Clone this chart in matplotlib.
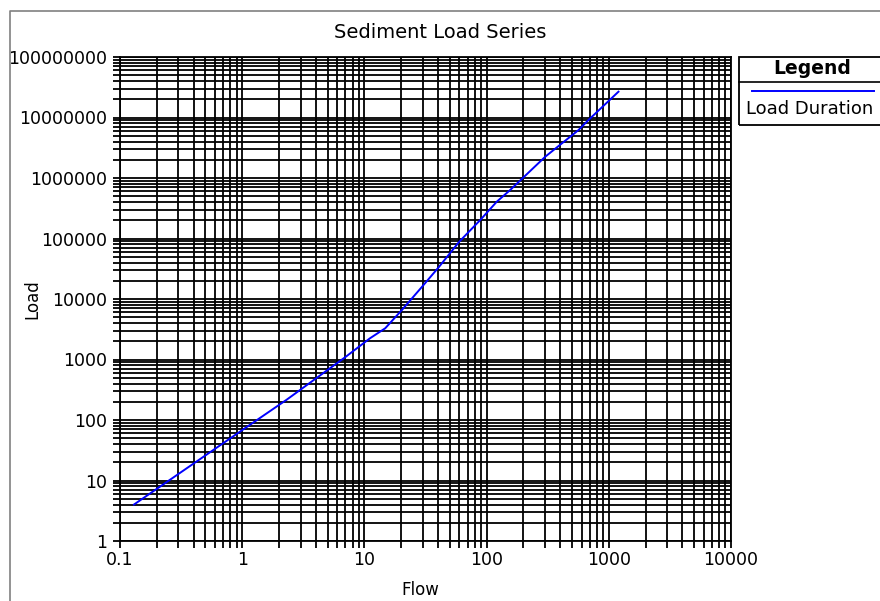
import matplotlib
matplotlib.use('Agg')
import matplotlib.pyplot as plt
from matplotlib.ticker import LogLocator, NullFormatter
from matplotlib.lines import Line2D
from matplotlib.patches import Rectangle

# values
flow = [0.13, 1, 2.3, 7, 11.1, 14.8, 20.3, 29.6, 40.9, 59.7, 88.7, 121, 156, 302, 565, 682, 1200]
load = [4.0, 68, 215, 1100, 2240, 3280, 6600, 15900, 34200, 88500, 202000, 405000,
        634000, 2250000, 6200000, 9100000, 26700000]

x_ticks = [0.1, 1, 10, 100, 1000, 10000]
x_labels = ['0.1', '1', '10', '100', '1000', '10000']
y_ticks = [1, 10, 100, 1000, 10000, 100000, 1000000, 10000000, 100000000]
y_labels = ['1', '10', '100', '1000', '10000', '100000', '1000000', '10000000', '100000000']

plt.rcParams['font.family'] = ['DejaVu Sans']

W, H = 880, 601
fig = plt.figure(figsize=(8.8, 6.01), dpi=100)


def fx(px):
    return px / W


def fy(py):
    return 1 - py / H


ax = fig.add_axes([fx(120), fy(541), (731 - 120) / W, (541 - 57) / H])
ax.set_xscale('log')
ax.set_yscale('log')
ax.plot(flow, load, color='#0000ff', lw=1.4, zorder=3)
ax.set_xlim(0.1, 10000)
ax.set_ylim(1, 1e8)

ax.set_xticks(x_ticks, x_labels)
ax.set_yticks(y_ticks, y_labels)
ax.xaxis.set_minor_locator(LogLocator(base=10, subs=range(2, 10), numticks=20))
ax.yaxis.set_minor_locator(LogLocator(base=10, subs=range(2, 10), numticks=20))
ax.xaxis.set_minor_formatter(NullFormatter())
ax.yaxis.set_minor_formatter(NullFormatter())

ax.set_axisbelow(True)
ax.grid(True, which='both', color='black', lw=1.3)
ax.tick_params(which='both', direction='out', length=5, width=1.3, color='black',
               labelsize=12.5)
ax.tick_params(axis='y', pad=4)
ax.tick_params(axis='x', pad=2)
for s in ax.spines.values():
    s.set_color('black')
    s.set_linewidth(1.3)

fig.text(fx(440), fy(33), 'Sediment Load Series', ha='center', va='center', fontsize=14)
fig.text(fx(420), fy(590), 'Flow', ha='center', va='center', fontsize=12)
fig.text(fx(32), fy(299), 'Load', ha='center', va='center', rotation=90, fontsize=12)

# legend box drawn by hand
fig.add_artist(Rectangle((fx(739), fy(125)), (890 - 739) / W, (125 - 57) / H,
                         transform=fig.transFigure, fill=False, ec='black', lw=1.3))
fig.add_artist(Line2D([fx(739), fx(890)], [fy(82), fy(82)], transform=fig.transFigure,
                      color='black', lw=1.2))
fig.text(fx(812), fy(69), 'Legend', ha='center', va='center', fontsize=13.5, weight='bold')
fig.add_artist(Line2D([fx(752), fx(874)], [fy(91), fy(91)], transform=fig.transFigure,
                      color='#0000ff', lw=1.4))
fig.text(fx(746), fy(109), 'Load Duration', ha='left', va='center', fontsize=13)

# outer frame, clips the long tick label on the left
fig.add_artist(Rectangle((0, 0), fx(10), 1, transform=fig.transFigure,
                         fc='white', ec='none', zorder=5))
fig.add_artist(Line2D([fx(10), fx(10), 1], [0, fy(11), fy(11)], transform=fig.transFigure,
                      color='#808080', lw=1.2, zorder=6))

fig.savefig('out.png', dpi=100)
